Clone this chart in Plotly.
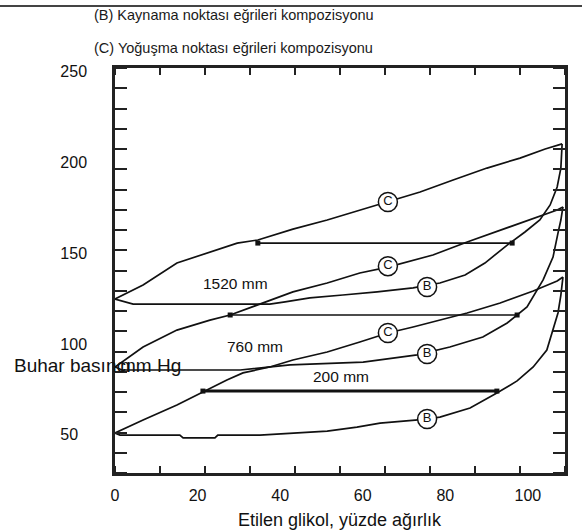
import plotly.graph_objects as go

# Ethylene glycol / water: vapour pressure vs. composition at three total pressures
x_ticks = [0, 20, 40, 60, 80, 100]
y_ticks = [50, 100, 150, 200, 250]
y_ticktext = ["50\u00a0\u00a0", "100", "150", "200", "250"]

# 1520 mm: dew-point (C) and bubble-point (B) curves
c1520_x = [0, 6.8, 15.0, 23.0, 29.6, 34.6, 43.1, 51.4, 59.3, 66.1, 73.9, 81.9, 90.1, 98.1, 104.2, 108.3]
c1520_y = [124.8, 132.5, 144.6, 150.7, 155.6, 157.3, 163.3, 168.3, 173.8, 178.2, 183.7, 190.3, 196.9, 202.4, 207.4, 210.2]
b1520_x = [0, 2.4, 4.4, 20.6, 37.5, 41.2, 47.2, 55.2, 63.5, 72.2, 78.7, 84.8, 89.6, 95.0, 99.3, 102.9, 105.4, 107.1, 108.0, 108.3]
b1520_y = [124.8, 123.2, 122.0, 122.0, 122.0, 123.2, 125.4, 127.0, 128.7, 130.9, 133.6, 138.0, 144.6, 154.5, 161.7, 168.3, 176.6, 186.5, 196.9, 210.2]

# 760 mm
c760_x = [0, 6.8, 15.0, 23.0, 27.9, 36.3, 43.1, 51.4, 59.3, 66.1, 72.2, 77.0, 85.3, 93.3, 101.3, 107.1, 108.5]
c760_y = [87.4, 98.4, 107.7, 113.2, 116.0, 123.2, 128.7, 133.6, 139.1, 142.4, 146.3, 149.0, 156.2, 162.8, 169.4, 173.8, 175.5]
b760_x = [0, 1.7, 30.3, 42.4, 60.1, 73.2, 81.1, 89.1, 95.0, 97.4, 99.8, 103.7, 106.1, 107.3, 108.0, 108.5]
b760_y = [87.4, 85.7, 85.7, 88.5, 90.1, 94.0, 98.4, 103.9, 111.6, 116.0, 120.4, 135.3, 147.9, 161.1, 168.3, 175.5]

# 200 mm
c200_x = [0, 6.8, 15.0, 21.3, 27.1, 31.0, 37.5, 43.1, 51.4, 59.3, 66.1, 72.2, 77.0, 85.3, 93.3, 101.3, 107.1, 108.5]
c200_y = [51.0, 58.2, 66.4, 73.6, 80.2, 84.1, 87.4, 91.2, 95.6, 101.1, 106.1, 109.4, 112.1, 117.1, 122.6, 129.2, 134.7, 136.9]
b200_x = [0, 1.2, 15.7, 16.5, 24.2, 24.9, 35.1, 42.4, 51.4, 58.6, 64.2, 73.4, 78.7, 86.0, 92.5, 97.4, 101.3, 104.6, 106.1, 107.3, 108.0, 108.5]
b200_y = [51.0, 49.9, 49.9, 48.3, 48.3, 49.9, 49.9, 51.0, 52.1, 54.3, 56.5, 58.2, 59.8, 64.8, 73.0, 79.7, 87.4, 96.7, 107.7, 117.1, 127.0, 136.9]

# Tie lines joining the C and B curves at equal pressure
tie_y = [155.6, 116.0, 74.1]
tie_x0 = [34.6, 27.9, 21.3]
tie_x1 = [96.2, 97.4, 92.5]
tie_width = [1.6, 1.6, 3]

# Curve tags
tag_text = ["C", "B", "C", "B", "C", "B"]
tag_x = [66.1, 75.6, 66.1, 75.6, 66.1, 75.6]
tag_y = [178.2, 131.4, 142.9, 94.5, 106.1, 58.7]

# Pressure labels
group_names = ["1520 mm", "760 mm", "200 mm"]
group_x = [29.3, 33.9, 54.7]
group_y = [133.6, 98.4, 81.9]

FONT = "Liberation Sans, Arial, sans-serif"
INK = "#111111"

fig = go.Figure()

for xs, ys in [(c1520_x, c1520_y), (b1520_x, b1520_y),
               (c760_x, c760_y), (b760_x, b760_y),
               (c200_x, c200_y), (b200_x, b200_y)]:
    fig.add_trace(go.Scatter(x=xs, y=ys, mode="lines",
                             line=dict(color=INK, width=1.7),
                             hoverinfo="skip", showlegend=False))

for y, x0, x1, w in zip(tie_y, tie_x0, tie_x1, tie_width):
    fig.add_trace(go.Scatter(x=[x0, x1], y=[y, y], mode="lines+markers",
                             line=dict(color=INK, width=w),
                             marker=dict(symbol="square", size=5, color=INK),
                             hoverinfo="skip", showlegend=False))

fig.add_trace(go.Scatter(x=tag_x, y=tag_y, mode="markers+text", text=tag_text,
                         textposition="middle center",
                         textfont=dict(family=FONT, size=13, color=INK),
                         marker=dict(symbol="circle", size=19, color="white",
                                     line=dict(color=INK, width=1.5)),
                         hoverinfo="skip", showlegend=False))

for name, gx, gy in zip(group_names, group_x, group_y):
    fig.add_annotation(x=gx, y=gy, text=name, showarrow=False,
                       font=dict(family=FONT, size=15.5, color=INK))

# Header text
fig.add_annotation(xref="paper", yref="paper", x=-0.0511, y=1.1309,
                   xanchor="left", yanchor="middle", showarrow=False,
                   text="(B) Kaynama noktası eğrileri kompozisyonu",
                   font=dict(family=FONT, size=14.5, color="#1a1a1a"))
fig.add_annotation(xref="paper", yref="paper", x=-0.0511, y=1.0494,
                   xanchor="left", yanchor="middle", showarrow=False,
                   text="(C) Yoğuşma noktası eğrileri kompozisyonu",
                   font=dict(family=FONT, size=14.5, color="#1a1a1a"))

# Axis captions
fig.add_annotation(xref="paper", yref="paper", x=0.5, y=-0.116,
                   xanchor="center", yanchor="middle", showarrow=False,
                   text="Etilen glikol, yüzde ağırlık",
                   font=dict(family=FONT, size=18, color=INK))
fig.add_annotation(xref="paper", yref="paper", x=-0.2289, y=0.2642,
                   xanchor="left", yanchor="middle", showarrow=False,
                   text="Buhar basıncı",
                   font=dict(family=FONT, size=19, color=INK))
fig.add_annotation(xref="paper", yref="paper", x=0.1511, y=0.2642,
                   xanchor="right", yanchor="middle", showarrow=False,
                   text="mm Hg",
                   font=dict(family=FONT, size=19, color=INK))

# Rule across the top of the page
fig.add_shape(type="line", xref="paper", yref="paper",
              x0=-0.26, x1=1.04, y0=1.1531, y1=1.1531,
              line=dict(color="#444444", width=2))

fig.update_layout(
    width=582, height=531,
    margin=dict(l=115, r=17, t=68, b=58),
    paper_bgcolor="white", plot_bgcolor="white",
    font=dict(family=FONT, color=INK),
    xaxis=dict(range=[0, 109], tickvals=x_ticks, ticks="",
               showgrid=False, zeroline=False,
               showline=True, linecolor="#222222", linewidth=2.5, mirror="ticks",
               tickfont=dict(size=16, family=FONT, color=INK),
               ticklabelstandoff=6,
               minor=dict(ticks="inside", tick0=0, dtick=10.9, ticklen=7,
                          tickwidth=2, tickcolor="#222222", showgrid=False)),
    yaxis=dict(range=[29, 252], tickvals=y_ticks, ticktext=y_ticktext, ticks="",
               showgrid=False, zeroline=False,
               showline=True, linecolor="#222222", linewidth=2.5, mirror="ticks",
               tickfont=dict(size=16, family=FONT, color=INK),
               ticklabelstandoff=22,
               minor=dict(ticks="inside", tick0=29, dtick=11.15, ticklen=12,
                          tickwidth=2, tickcolor="#222222", showgrid=False)),
)

fig.write_html("out.html")
